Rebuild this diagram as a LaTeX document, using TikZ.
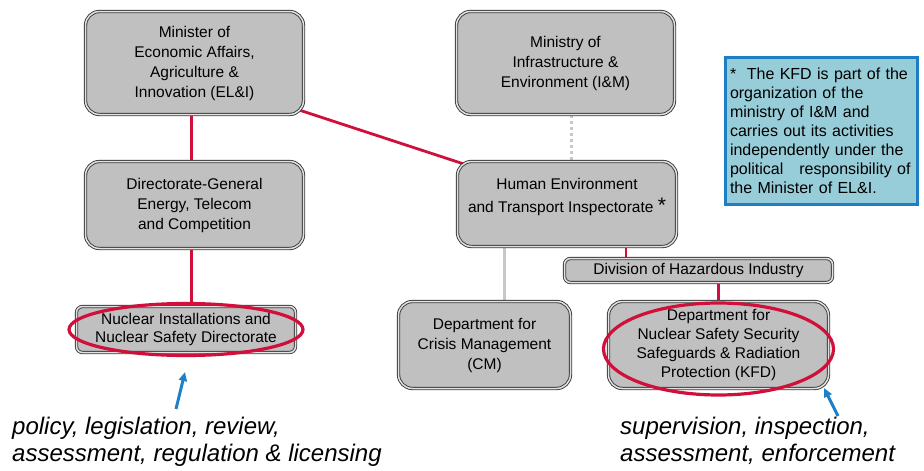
\documentclass[tikz,border=0pt]{standalone}
\usepackage{fontspec}
\setmainfont{Liberation Sans}
\usetikzlibrary{arrows.meta,backgrounds}

\definecolor{linkred}{RGB}{208,16,58}
\definecolor{boxfill}{RGB}{192,192,192}
\definecolor{boxline}{RGB}{58,58,58}
\definecolor{boxgap}{RGB}{225,225,225}
\definecolor{notefill}{RGB}{151,205,217}
\definecolor{noteline}{RGB}{30,126,195}
\definecolor{arrowblue}{RGB}{30,128,200}
\definecolor{linegray}{RGB}{200,200,200}

\tikzset{
	orgbox/.style = {draw = boxline, line width = 0.9pt, double = boxgap, double distance = 1.5pt,
		fill = boxfill, rounded corners = 14pt, align = center, inner sep = 2pt,
		font = \fontsize{15.5}{20}\selectfont},
	flatbox/.style = {orgbox, rounded corners = 6pt},
	redlink/.style = {draw = linkred, line width = 2.8pt},
	redring/.style = {draw = linkred, line width = 3.2pt},
	graylink/.style = {draw = linegray, line width = 2.8pt},
	dotlink/.style = {draw = linegray, line width = 3pt, dash pattern = on 3pt off 3pt},
	bluearrow/.style = {draw = arrowblue, line width = 3pt, -{Triangle[length = 9pt, width = 8pt]}},
	notebox/.style = {draw = noteline, line width = 3pt, fill = notefill, align = left,
		inner xsep = 5pt, inner ysep = 7pt, font = \fontsize{16}{19}\selectfont},
	remark/.style = {align = left, inner sep = 0pt, font = \fontsize{24}{27}\selectfont\itshape}
}

\begin{document}
\begin{tikzpicture}[x = 1pt, y = -1pt]
	\useasboundingbox (0,0) rectangle (924,471);

	% ministries
	\node[orgbox, minimum width = 218pt, minimum height = 103pt] (minister) at (194.5,63)
		{Minister of\\ Economic Affairs,\\ Agriculture \&\\ Innovation (EL\&I)};
	\node[orgbox, minimum width = 218pt, minimum height = 103pt] (ministry) at (565.5,63)
		{Ministry of\\ Infrastructure \&\\ Environment (I\&M)};

	% second row
	\node[orgbox, minimum width = 218pt, minimum height = 87pt] (dg) at (194.5,205)
		{Directorate-General\\ Energy, Telecom\\ and Competition};
	\node[orgbox, minimum width = 219pt, minimum height = 85pt] (heti) at (567,204)
		{Human Environment\\[3pt] and Transport Inspectorate {\fontsize{21}{20}\selectfont*}\\[-2pt] \mbox{}};

	% lower row
	\node[flatbox, minimum width = 219pt, minimum height = 46pt, font = \fontsize{15.5}{18}\selectfont] (nisd) at (186,329.5)
		{Nuclear Installations and\\ Nuclear Safety Directorate};
	\node[flatbox, minimum width = 268pt, minimum height = 24pt] (division) at (698.5,270.5)
		{Division of Hazardous Industry};
	\node[orgbox, minimum width = 172pt, minimum height = 87pt] (crisis) at (484.5,345)
		{Department for\\ Crisis Management\\ (CM)};
	\node[orgbox, minimum width = 220pt, minimum height = 87pt, font = \fontsize{15.5}{19}\selectfont] (kfd) at (718.5,345)
		{Department for\\ Nuclear Safety Security\\ Safeguards \& Radiation\\ Protection (KFD)};

	% note
	\node[notebox, anchor = north west, text width = 182pt, minimum height = 147pt] (note) at (723.5,55.5)
		{*\ \ The KFD is part of the\\ organization of the\\ ministry of I\&M and\\ carries out its activities\\
		independently under the\\ political\ \ \ responsibility of\\ the Minister of EL\&I.};

	% links
	\begin{scope}[on background layer]
		\draw[redlink] ([xshift = -3pt]minister.south) -- ([xshift = -3pt]dg.north);
		\draw[redlink] ([xshift = -3pt]dg.south) -- ([xshift = -3pt]dg.south |- nisd.north);
		\draw[redlink] ([shift = {(-5,-5)}]minister.south east) -- ([shift = {(10,4)}]heti.north west);
		\draw[dotlink] ([xshift = 6pt]ministry.south) -- ([xshift = 6pt]ministry.south |- heti.north);
		\draw[graylink] ([xshift = 20pt]crisis.north |- heti.south) -- ([xshift = 20pt]crisis.north);
		\draw[redlink] ([xshift = 59pt]heti.south) -- ([xshift = 59pt]heti.south |- division.north);
		\draw[redlink] (kfd.north |- division.south) -- (kfd.north);
	\end{scope}

	% rings
	\draw[redring] (nisd.center) ellipse [x radius = 117pt, y radius = 26pt];
	\draw[redring] ([yshift = -4pt]kfd.center) ellipse [x radius = 115pt, y radius = 46pt];

	% remarks
	\node[remark, anchor = north west] (policy) at (12,417)
		{policy, legislation, review,\\ assessment, regulation \& licensing};
	\node[remark, anchor = north west] (supervision) at (620,417)
		{supervision, inspection,\\ assessment, enforcement};

	\coordinate (nitip) at (185,372);
	\coordinate (kfdtip) at (824,388);
	\draw[bluearrow] (176,409) -- (nitip);
	\draw[bluearrow] (838,416) -- (kfdtip);
\end{tikzpicture}
\end{document}
